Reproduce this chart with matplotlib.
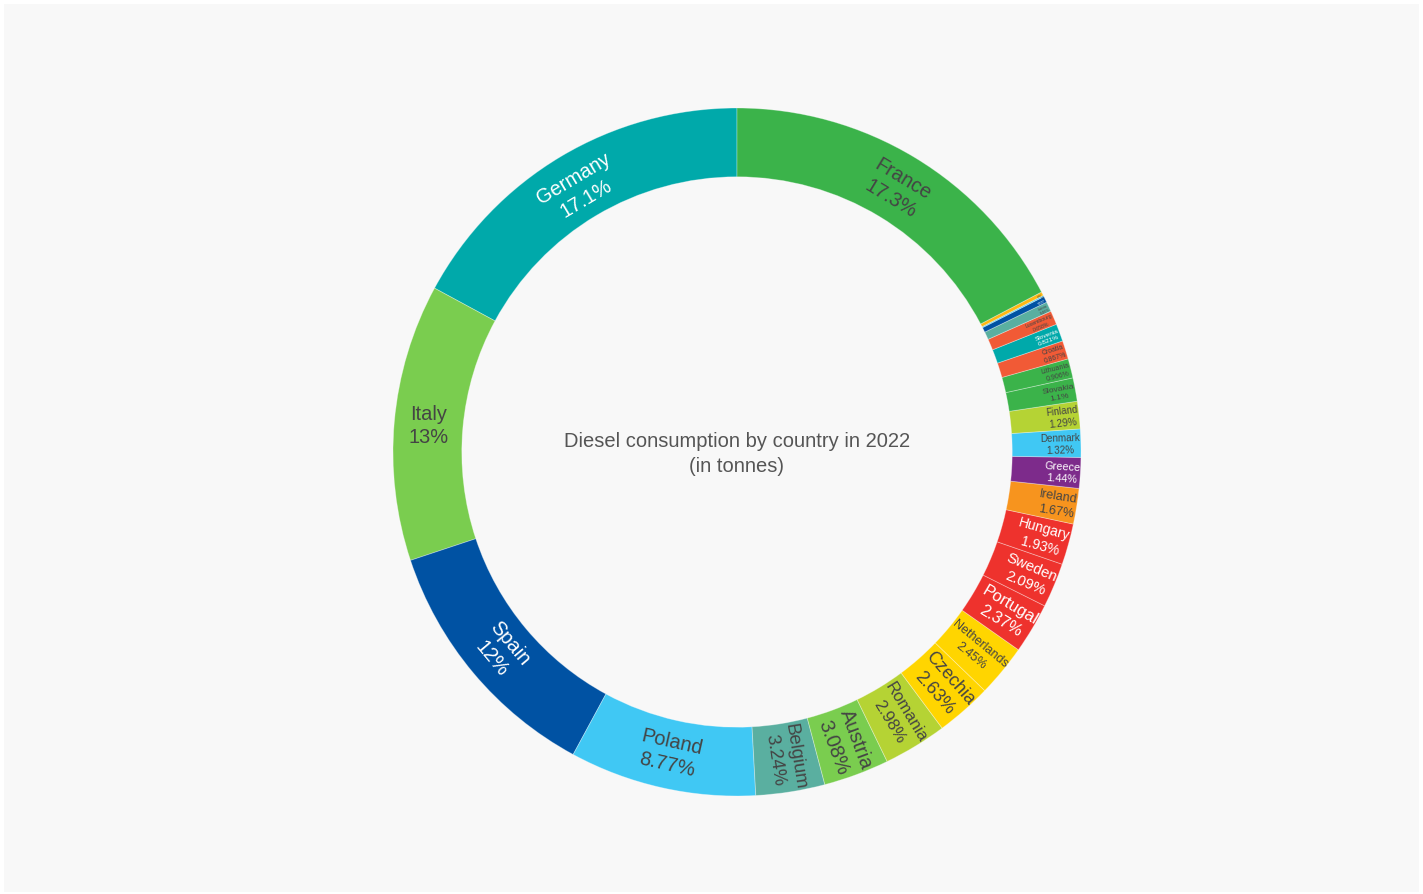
import math
import matplotlib
matplotlib.use("Agg")
import matplotlib.pyplot as plt
from matplotlib.font_manager import FontProperties
from matplotlib.patches import Rectangle

plt.rcParams['font.family'] = ['Liberation Sans', 'DejaVu Sans']

# share of EU diesel consumption 2022 (%), counterclockwise from 12 o'clock
countries = ['Germany', 'Italy', 'Spain', 'Poland', 'Belgium', 'Austria', 'Romania',
             'Czechia', 'Netherlands', 'Portugal', 'Sweden', 'Hungary', 'Ireland',
             'Greece', 'Denmark', 'Finland', 'Slovakia', 'Lithuania', 'Croatia',
             'Slovenia', 'Luxembourg', 'Latvia', 'Estonia', 'Malta', 'Cyprus', 'France']
shares = [17.1, 13, 12, 8.77, 3.24, 3.08, 2.98, 2.63, 2.45, 2.37, 2.09, 1.93, 1.67,
          1.44, 1.32, 1.29, 1.1, 0.906, 0.867, 0.821, 0.658, 0.46, 0.29, 0.06, 0.178, 17.3]
colors = ['#00a9aa', '#7acd4f', '#0052a3', '#40c8f4', '#5aafa0', '#7acd4f', '#b5d334',
          '#ffd500', '#ffd500', '#ee322d', '#ee322d', '#ee322d', '#f7941e', '#7d2b8b',
          '#40c8f4', '#b5d334', '#3bb34a', '#3bb34a', '#f15a36', '#00a9aa', '#f15a36',
          '#5aafa0', '#0052a3', '#40c8f4', '#fdb813', '#3bb34a']
title = 'Diesel consumption by country in 2022\n(in tonnes)'

W, H = 1423, 895
fig = plt.figure(figsize=(W / 100, H / 100), dpi=100)
fig.patch.set_facecolor('white')
ax = fig.add_axes([0, 0, 1, 1])
ax.add_patch(Rectangle((4, 2), W - 8, H - 7, facecolor='#f8f8f8', edgecolor='none', zorder=0))

cx, cy = 737, 442
R = 344
hole = 0.8
ring = 1 - hole

wedges, _ = ax.pie(shares, colors=colors, startangle=90, counterclock=True,
                   radius=R, center=(cx, cy),
                   wedgeprops=dict(width=R * ring, edgecolor=(1, 1, 1, 0.35), linewidth=0.6))
ax.set_xlim(0, W)
ax.set_ylim(0, H)
ax.set_aspect('equal')
ax.axis('off')

renderer = fig.canvas.get_renderer()
max_px = 20
pad = 3


def text_box(lines, px):
    prop = FontProperties(family=['Liberation Sans'], size=px * 0.72)
    w = max(renderer.get_text_width_height_descent(l, prop, ismath=False)[0] for l in lines)
    h = px * (1.3 * (len(lines) - 1) + 1.2)
    return w, h


def max_half(a, half, r):
    q = a + 1 / (2 * math.tan(half))
    return r * min(1 / (math.sqrt(q * q + 0.5) + q),
                   ring / (math.sqrt(a * a + ring / 2) + a))


def norm(deg):
    return (deg + 90) % 180 - 90


def text_color(c):
    r, g, b = [int(c[i:i + 2], 16) for i in (1, 3, 5)]
    return '#444444' if (r * 299 + g * 587 + b * 114) / 1000 >= 128 else 'white'


total = sum(shares)
for w, name, v, c in zip(wedges, countries, shares, colors):
    lines = [name, '{:.3g}%'.format(v / total * 100)]
    tw, th = text_box(lines, max_px)
    half = math.radians(w.theta2 - w.theta1) / 2
    mid = (w.theta1 + w.theta2) / 2

    # horizontal first, then tangential / radial, keep the largest fit
    r_ins = min(1 / (1 + 1 / math.sin(half)), ring / 2)
    diag = math.hypot(tw, th)
    best = (r_ins * R * 2 / diag, 1 - r_ins, 0.0)
    if best[0] < 1:
        rr = max(0, R - 2 * pad)
        a = th / tw
        s = max_half(a, half, rr)
        tan_t = (s * 2 / tw, math.cos(s / rr) - a * s / rr, norm(mid + 90))
        a = tw / th
        s = max_half(a, half, rr)
        rad_t = (s * 2 / th, math.cos(s / rr) - a * s / rr, norm(mid))
        for t in (tan_t, rad_t):
            if t[0] > best[0]:
                best = t
    scale, rc, rot = best
    px = max_px * min(1, scale)
    x = cx + rc * R * math.cos(math.radians(mid))
    y = cy + rc * R * math.sin(math.radians(mid))
    ax.text(x, y, '\n'.join(lines), fontsize=px * 0.72, color=text_color(c),
            ha='center', va='center', rotation=rot, rotation_mode='anchor',
            multialignment='center', linespacing=1.3)

ax.text(cx, cy - 1, title, fontsize=14.5, color='#555555', ha='center', va='center',
        multialignment='center', linespacing=1.45)

fig.savefig('out.png', dpi=100)
